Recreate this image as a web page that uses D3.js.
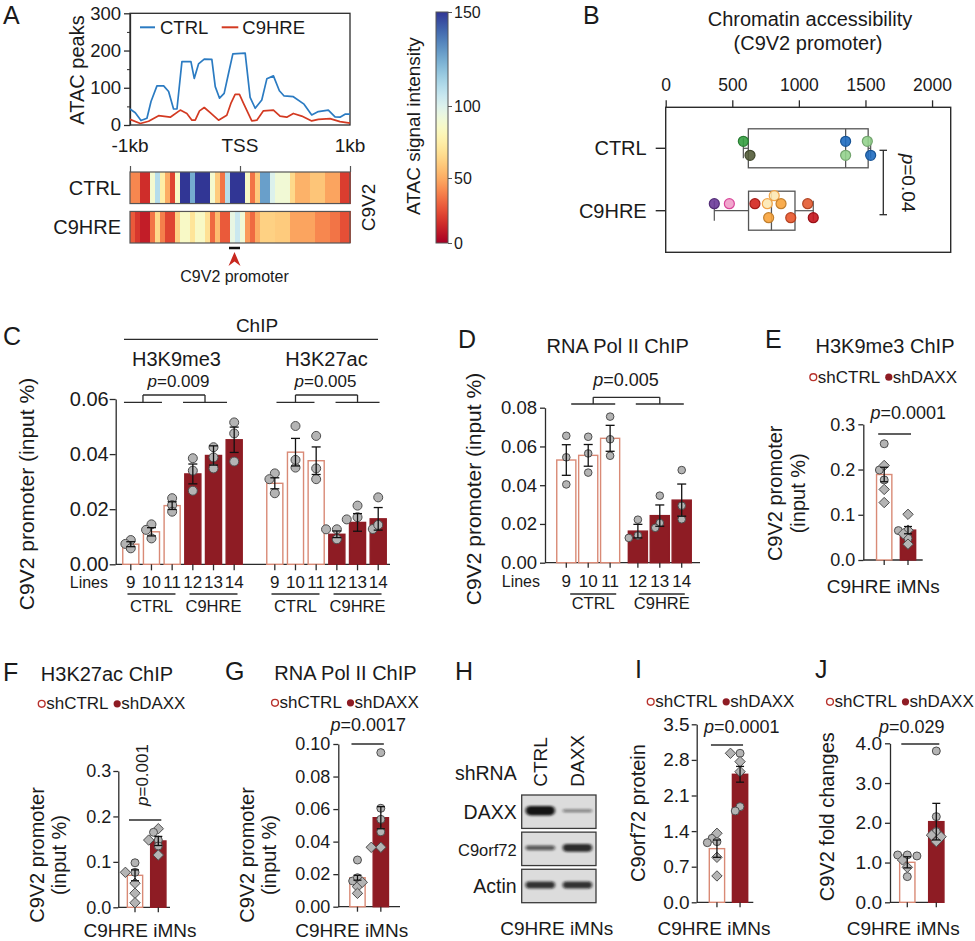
<!DOCTYPE html>
<html><head><meta charset="utf-8">
<script src="https://cdn.jsdelivr.net/npm/d3@7/dist/d3.min.js"></script>
<style>
html,body{margin:0;padding:0;background:#fff;}
svg{display:block;}
</style></head>
<body>
<svg id="fig" width="975" height="941" xmlns="http://www.w3.org/2000/svg"></svg>
<script>
// ================= DATA =================
// Panel A: ATAC peaks profile (bp relative to TSS, peak counts)
const atacCtrlPos = [-1000,-952,-900,-846,-809,-755,-694,-649,-604,-573,-528,-446,-416,-377,-325,-256,-225,-186,-144,-104,-65,47,92,138,198,244,304,358,401,485,582,652,712,803,864,909,955,1000];
const atacCtrlVal = [43,33,12,18,63,105,105,90,43,43,170,170,125,164,177,176,103,72,85,139,191,193,74,45,67,124,132,92,78,76,56,27,36,40,22,21,29,29];
const atacC9Pos = [-1000,-906,-831,-740,-634,-543,-483,-437,-407,-368,-325,-271,-195,-120,-83,-44,-5,32,107,153,213,304,364,425,485,561,652,712,818,909,1000];
const atacC9Val = [15,4,10,25,21,40,31,13,13,38,47,33,13,26,58,82,82,58,11,13,38,40,24,21,31,24,11,15,17,9,5];
const atacYTicks = [0,100,200,300];
const atacXLabels = ["-1kb","TSS","1kb"];
const atacXTickPos = [-1000,0,1000];
// Panel A heatmap: ATAC signal intensity per bin (44 bins across -1kb..1kb)
const heatCtrl = [40,40,15,15,88,110,75,50,22,85,150,150,125,150,150,150,88,60,35,110,150,150,150,85,35,60,128,128,100,90,90,90,65,52,52,52,58,58,58,48,48,48,20,20];
const heatC9 = [28,18,10,10,35,65,38,22,22,62,85,85,70,85,85,68,32,55,28,28,95,105,90,45,32,50,62,62,62,60,60,60,48,48,48,48,48,40,40,40,35,35,25,25];
const heatRows = ["CTRL","C9HRE"];
const colorbarTicks = [0,50,100,150];
const promoterRange = [-100,0];

// Panel B: chromatin accessibility at C9V2 promoter
const bGroups = ["CTRL","C9HRE"];
const bCtrlVals = [583,633,1351,1351,1514,1539];
const bCtrlColors = ["#35a041","#535c3a","#1f6cc0","#93d38d","#93d38d","#1f6cc0"];
const bC9Vals = [365,478,670,763,773,815,866,939,1066,1108];
const bC9Colors = ["#6b3a99","#ef9cc8","#d3231d","#fde9b2","#f8a33a","#fde9b2","#f8a33a","#e8552a","#e35a30","#c5141c"];
const bXTicks = [0,500,1000,1500,2000];
const bP = "0.04";

// Panel C: ChIP (input %) per line
const cLines = ["9","10","11","12","13","14"];
const cCond = ["CTRL","CTRL","CTRL","C9HRE","C9HRE","C9HRE"];
const cMarks = ["H3K9me3","H3K27ac"];
const h3k9Mean = [0.0073,0.0118,0.0213,0.0328,0.0395,0.0452];
const h3k9Sem = [0.0009,0.0015,0.0014,0.0036,0.0035,0.0046];
const h3k9Pts = [[0.0088,0.0074,0.0058],[0.0145,0.0125,0.0094],[0.0240,0.0215,0.0191],[0.0385,0.0340,0.0267],[0.0425,0.0388,0.0348],[0.0515,0.0475,0.0373]];
const h3k27Mean = [0.0294,0.0407,0.0376,0.0109,0.0152,0.0165];
const h3k27Sem = [0.0020,0.0050,0.0050,0.0012,0.0032,0.0041];
const h3k27Pts = [[0.0330,0.0309,0.0258],[0.0351,0.0502,0.0379],[0.0466,0.0348,0.0309],[0.0127,0.0127,0.0091],[0.0213,0.0163,0.0171],[0.0243,0.0128,0.0143]];
const cPvals = ["0.009","0.005"];
const cYTicks = [0,0.02,0.04,0.06];

// Panel D: RNA Pol II ChIP
const polMean = [0.0530,0.0554,0.0642,0.0163,0.0243,0.0323];
const polSem = [0.0079,0.0056,0.0067,0.0035,0.0055,0.0083];
const polPts = [[0.0655,0.0544,0.0404],[0.0650,0.0564,0.0465],[0.0754,0.0637,0.0552],[0.0222,0.0140,0.0128],[0.0346,0.0205,0.0180],[0.0478,0.0294,0.0224]];
const dYTicks = [0,0.02,0.04,0.06,0.08];

// Small panels: shCTRL vs shDAXX
const shGroups = ["shCTRL","shDAXX"];
// E: H3K9me3 ChIP
const eMean = [0.189,0.066], eSem = [0.016,0.008];
const eCtrlPts = [0.257,0.199,0.177,0.209,0.156,0.127], eCtrlShape = ["o","o","o","d","d","d"];
const eDaxxPts = [0.101,0.065,0.066,0.048,0.035,0.058], eDaxxShape = ["d","o","d","o","d","d"];
const eYTicks = [0,0.1,0.2,0.3];
// F: H3K27ac ChIP
const fMean = [0.0704,0.146], fSem = [0.012,0.010];
const fCtrlPts = [0.098,0.077,0.077,0.053,0.031,0.010], fCtrlShape = ["o","o","d","d","d","d"];
const fDaxxPts = [0.173,0.165,0.148,0.148,0.135,0.115], fDaxxShape = ["d","o","o","d","o","d"];
const fYTicks = [0,0.1,0.2,0.3];
// G: RNA Pol II ChIP
const gMean = [0.0178,0.0547], gSem = [0.0015,0.0068];
const gCtrlPts = [0.0287,0.0158,0.0178,0.0123,0.0150,0.0082], gCtrlShape = ["o","o","o","d","d","d"];
const gDaxxPts = [0.0947,0.0605,0.0537,0.0460,0.0365,0.0365], gDaxxShape = ["o","o","o","o","d","d"];
const gYTicks = [0,0.02,0.04,0.06,0.08,0.10];
// H: western blot (relative band intensity)
const blotLanes = ["CTRL","DAXX"];
const blotProteins = ["DAXX","C9orf72","Actin"];
const blotDAXX = [1.0,0.3];
const blotC9orf72 = [0.55,0.85];
const blotActin = [0.8,0.8];
// I: C9orf72 protein
const iMean = [1.055,2.517], iSem = [0.17,0.155];
const iCtrlPts = [1.258,1.357,1.193,1.173,0.885,0.518], iCtrlShape = ["o","d","o","o","d","d"];
const iDaxxPts = [2.93,2.93,2.766,2.569,1.881,1.796], iDaxxShape = ["o","d","d","d","o","o"];
const iYTicks = [0,0.7,1.4,2.1,2.8,3.5];
// J: C9V2 fold changes
const jMean = [1.006,2.029], jSem = [0.14,0.46];
const jCtrlPts = [1.19,1.19,1.166,0.88,0.646,1.065], jCtrlShape = ["o","o","o","d","o","d"];
const jDaxxPts = [3.807,2.155,1.778,1.69,1.65,1.526], jDaxxShape = ["o","o","o","d","d","d"];
const jYTicks = [0,1,2,3,4];

// ================= DRAWING =================
const FONT = '"Liberation Sans", Arial, Helvetica, sans-serif';
const INK = "#1a1a1a";
const AX = "#2b2b2b";
const CTRL_EDGE = "#d98a76";
const DARK_RED = "#8e1c24";
const svg = d3.select("#fig").attr("font-family", FONT);
svg.append("rect").attr("width",975).attr("height",941).attr("fill","#fff");

function text(x, y, s, size, anchor="start", rot=0) {
  const t = svg.append("text").attr("x",x).attr("y",y).attr("font-size",size)
    .attr("text-anchor",anchor).attr("fill",INK).text(s);
  if (rot) t.attr("transform",`rotate(${rot},${x},${y})`);
  return t;
}
function ptext(x, y, val, size, anchor="middle", rot=0) {
  const t = svg.append("text").attr("x",x).attr("y",y).attr("font-size",size)
    .attr("text-anchor",anchor).attr("fill",INK);
  t.append("tspan").attr("font-style","italic").text("p");
  t.append("tspan").text("=" + val);
  if (rot) t.attr("transform",`rotate(${rot},${x},${y})`);
  return t;
}
function line(x1,y1,x2,y2,w=1.3,c=AX) {
  return svg.append("line").attr("x1",x1).attr("y1",y1).attr("x2",x2).attr("y2",y2)
    .attr("stroke",c).attr("stroke-width",w);
}
function styleAxis(g, size) {
  g.select(".domain").attr("stroke",AX).attr("stroke-width",1.3);
  g.selectAll(".tick line").attr("stroke",AX).attr("stroke-width",1.3);
  g.selectAll(".tick text").attr("font-size",size).attr("fill",INK).attr("font-family",FONT);
}
function marker(g, x, y, shape, r) {
  if (shape === "d") {
    const s = r * 1.3;
    g.append("path").attr("d",`M${x},${y-s}L${x+s},${y}L${x},${y+s}L${x-s},${y}Z`)
      .attr("fill","#b4b4b4").attr("stroke","#4d4d4d").attr("stroke-width",1);
  } else {
    g.append("circle").attr("cx",x).attr("cy",y).attr("r",r)
      .attr("fill","#b4b4b4").attr("stroke","#4d4d4d").attr("stroke-width",1);
  }
}
// horizontal dodge so that points do not overlap too much
function dodge(vals, y, cx, r) {
  const placed = [], res = new Array(vals.length);
  const order = vals.map((v,i)=>i).sort((a,b)=>vals[b]-vals[a]);
  const s = r * 1.2;
  const cands = [0,-s,s,-2*s,2*s];
  for (const i of order) {
    const py = y(vals[i]);
    let dx = cands[cands.length-1];
    for (const c of cands) {
      if (placed.every(p => Math.hypot(p.x-c, p.y-py) >= 2*r*0.7)) { dx = c; break; }
    }
    placed.push({x:dx, y:py});
    res[i] = {x: cx+dx, y: py};
  }
  return res;
}
function errorBar(x, y, mean, sem, cap=4.5) {
  line(x, y(mean-sem), x, y(mean+sem), 1.3, "#111");
  line(x-cap, y(mean+sem), x+cap, y(mean+sem), 1.3, "#111");
  line(x-cap, y(mean-sem), x+cap, y(mean-sem), 1.3, "#111");
}
function bar(x, w, y, v, ctrl) {
  svg.append("rect").attr("x",x+0.75).attr("y",y(v)).attr("width",w-1.5).attr("height",y(0)-y(v))
    .attr("fill", ctrl ? "#fff" : DARK_RED).attr("stroke", ctrl ? CTRL_EDGE : DARK_RED).attr("stroke-width",1.4);
}

// ---------- Panel A ----------
text(3, 24, "A", 25);
const xA = d3.scaleLinear().domain([-1000,1000]).range([130,350]);
const yA = d3.scaleLinear().domain([0,300]).range([125,13.3]);
svg.append("rect").attr("x",xA(-1000)).attr("y",yA(300)).attr("width",xA(1000)-xA(-1000))
  .attr("height",yA(0)-yA(300)).attr("fill","none").attr("stroke",AX).attr("stroke-width",1.3);
const gAy = svg.append("g").attr("transform",`translate(${xA(-1000)},0)`)
  .call(d3.axisLeft(yA).tickValues(atacYTicks).tickSize(6).tickSizeOuter(0).tickPadding(3));
styleAxis(gAy, 18.5);
svg.append("g").attr("transform",`translate(${xA(-1000)},0)`)
  .call(d3.axisLeft(yA).tickValues([50,150,250]).tickSize(3).tickFormat(""))
  .call(g => { g.select(".domain").remove(); g.selectAll("line").attr("stroke",AX).attr("stroke-width",1); });
text(84, 70, "ATAC peaks", 20, "middle", -90);
const lineA = d3.line().x(d=>xA(d[0])).y(d=>yA(d[1]));
svg.append("path").datum(d3.zip(atacCtrlPos, atacCtrlVal)).attr("d",lineA)
  .attr("fill","none").attr("stroke","#2b7bc2").attr("stroke-width",1.7).attr("stroke-linejoin","round");
svg.append("path").datum(d3.zip(atacC9Pos, atacC9Val)).attr("d",lineA)
  .attr("fill","none").attr("stroke","#d33a22").attr("stroke-width",1.7).attr("stroke-linejoin","round");
line(140, 27.3, 155, 27.3, 2, "#2b7bc2"); text(160, 33.5, "CTRL", 18.5);
line(221.7, 27.3, 238.3, 27.3, 2, "#d33a22"); text(242.3, 33.5, "C9HRE", 18.5);
atacXTickPos.forEach((p,i) => text(xA(p), 151.5, atacXLabels[i], 19, "middle"));

// heatmap
const tMap = d3.scaleLinear().domain([0,50,100,150]).range([0,0.3,0.6,1]).clamp(true);
const heatColor = v => d3.interpolateRdYlBu(tMap(v));
const xBin = d3.scaleBand().domain(d3.range(heatCtrl.length)).range([xA(-1000), xA(1000)]);
const yRow = d3.scaleBand().domain(heatRows).range([172,243]).paddingInner(0.2);
[heatCtrl, heatC9].forEach((arr, ri) => {
  const row = heatRows[ri];
  svg.append("g").selectAll("rect").data(arr).join("rect")
    .attr("x",(d,i)=>xBin(i)).attr("y",yRow(row)).attr("width",xBin.bandwidth()+0.6)
    .attr("height",yRow.bandwidth()).attr("fill",d=>heatColor(d)).attr("shape-rendering","crispEdges");
  svg.append("rect").attr("x",xA(-1000)).attr("y",yRow(row)).attr("width",xA(1000)-xA(-1000))
    .attr("height",yRow.bandwidth()).attr("fill","none").attr("stroke","#555").attr("stroke-width",1.2);
  text(121, yRow(row)+yRow.bandwidth()/2+7, row, 20, "end");
});
svg.append("g").attr("transform",`translate(0,${yRow("CTRL")})`)
  .call(d3.axisTop(xA).tickValues(atacXTickPos).tickSize(6).tickFormat(""))
  .call(g => { g.select(".domain").remove(); g.selectAll("line").attr("stroke","#555").attr("stroke-width",1.2); });
text(375, 207.5, "C9V2", 19, "middle", -90);
line(xA(promoterRange[0]), 248, xA(promoterRange[1]), 248, 2.5, "#111");
const arrowX = xA((promoterRange[0]+promoterRange[1])/2);
svg.append("path").attr("d",`M${arrowX},252 L${arrowX+6},266 L${arrowX},261.5 L${arrowX-6},266 Z`).attr("fill","#c8281f");
text(arrowX, 282, "C9V2 promoter", 16, "middle");

// colorbar
const cbY = d3.scaleLinear().domain([0,50,100,150]).range([243,178,106,12]);
const defs = svg.append("defs");
const grad = defs.append("linearGradient").attr("id","cbgrad").attr("x1",0).attr("y1",1).attr("x2",0).attr("y2",0);
d3.range(0,151,5).forEach(v => grad.append("stop").attr("offset",(cbY(0)-cbY(v))/(cbY(0)-cbY(150))).attr("stop-color",heatColor(v)));
svg.append("rect").attr("x",436).attr("y",cbY(150)).attr("width",12).attr("height",cbY(0)-cbY(150))
  .attr("fill","url(#cbgrad)").attr("stroke","#555").attr("stroke-width",1);
const gCb = svg.append("g").attr("transform","translate(448,0)")
  .call(d3.axisRight(cbY).tickValues(colorbarTicks).tickSize(4).tickPadding(2));
gCb.select(".domain").remove();
gCb.selectAll("line").attr("stroke","#555");
gCb.selectAll("text").attr("font-size",16).attr("fill",INK).attr("font-family",FONT);
text(420, 126, "ATAC signal intensity", 19, "middle", -90);

// ---------- Panel B ----------
text(583, 24, "B", 25);
text(810, 26, "Chromatin accessibility", 20, "middle");
text(808, 50, "(C9V2 promoter)", 20, "middle");
const xB = d3.scaleLinear().domain([0,2140]).range([665.7,950.7]);
const yB = d3.scalePoint().domain(bGroups).range([148.3,210.7]);
const bTop = 107.3, bBot = 252.3;
svg.append("rect").attr("x",xB(0)).attr("y",bTop).attr("width",xB(2140)-xB(0)).attr("height",bBot-bTop)
  .attr("fill","none").attr("stroke",AX).attr("stroke-width",1.4);
const gBx = svg.append("g").attr("transform",`translate(0,${bTop})`)
  .call(d3.axisTop(xB).tickValues(bXTicks).tickFormat(d3.format("d")).tickSize(7).tickSizeOuter(0).tickPadding(9));
styleAxis(gBx, 17.5);
gBx.select(".domain").remove();
bGroups.forEach(g => {
  line(xB(0)-10, yB(g), xB(0), yB(g), 1.4);
  text(xB(0)-19, yB(g)+7, g, 20, "end");
});
function q6(sorted, p) {
  const h = p*(sorted.length+1) - 1;
  const lo = Math.max(0, Math.min(sorted.length-1, Math.floor(h)));
  const hi = Math.min(sorted.length-1, lo+1);
  return sorted[lo] + (h-lo)*(sorted[hi]-sorted[lo]);
}
function boxPlot(vals, cols, grp, strokes) {
  const s = vals.slice().sort(d3.ascending);
  const q1 = q6(s,0.25), q3 = q6(s,0.75), med = d3.median(s);
  const cy = yB(grp), hh = 19.5;
  line(xB(s[0]), cy, xB(q1), cy, 1.2, "#555");
  line(xB(q3), cy, xB(s[s.length-1]), cy, 1.2, "#555");
  line(xB(s[0]), cy-10, xB(s[0]), cy+10, 1.2, "#555");
  line(xB(s[s.length-1]), cy-10, xB(s[s.length-1]), cy+10, 1.2, "#555");
  svg.append("rect").attr("x",xB(q1)).attr("y",cy-hh).attr("width",xB(q3)-xB(q1)).attr("height",2*hh)
    .attr("fill","none").attr("stroke","#555").attr("stroke-width",1.3);
  line(xB(med), cy-hh, xB(med), cy+hh, 1.3, "#555");
  // vertical dodge
  const r = 5, placed = [];
  const order = vals.map((v,i)=>i).sort((a,b)=>vals[a]-vals[b]);
  const cands = [-7,7,0,-15,15];
  order.forEach(i => {
    const px = xB(vals[i]);
    let dy = cands[cands.length-1];
    for (const c of cands) { if (placed.every(p=>Math.hypot(p.x-px,p.y-c) >= 2*r)) { dy = c; break; } }
    placed.push({x:px, y:dy});
    svg.append("circle").attr("cx",px).attr("cy",cy+dy).attr("r",r)
      .attr("fill",cols[i]).attr("fill-opacity",0.9)
      .attr("stroke", strokes ? strokes[i] : d3.color(cols[i]).darker(0.7)).attr("stroke-width",1.2);
  });
}
boxPlot(bCtrlVals, bCtrlColors, "CTRL");
boxPlot(bC9Vals, bC9Colors, "C9HRE", bC9Colors.map(c => c === "#fde9b2" ? "#f2a64a" : (c === "#ef9cc8" ? "#d9479a" : d3.color(c).darker(0.7))));
line(883.3, yB("CTRL")+2, 883.3, yB("C9HRE")+4, 1.3);
line(879.5, yB("CTRL")+2, 887, yB("CTRL")+2, 1.3);
line(879.5, yB("C9HRE")+4, 887, yB("C9HRE")+4, 1.3);
ptext(902, 183, bP, 19, "middle", 90);

// ---------- Panel C ----------
text(3, 345, "C", 25);
const yC = d3.scaleLinear().domain([0,0.06]).range([564.3,399]);
const xCmark = d3.scaleBand().domain(cMarks).range([122,387]).paddingInner(0.16);
const xCcond = d3.scaleBand().domain(["CTRL","C9HRE"]).range([0,xCmark.bandwidth()]).paddingInner(0.05);
const xCline = d3.scaleBand().domain([0,1,2]).range([0,xCcond.bandwidth()]).paddingInner(0.15);
const cBarX = (m, i) => xCmark(m) + xCcond(cCond[i]) + xCline(i % 3);
const gCy = svg.append("g").attr("transform","translate(115.7,0)")
  .call(d3.axisLeft(yC).tickValues(cYTicks).tickFormat(d3.format(".2f")).tickSize(6).tickSizeOuter(0).tickPadding(1));
styleAxis(gCy, 20);
line(115.7, yC(0), 390, yC(0), 1.3);
text(34, 494, "C9V2 promoter (input %)", 21, "middle", -90);
text(257, 331.7, "ChIP", 19, "middle");
line(124, 339.3, 378, 339.3, 1.3);
const cBracketShift = [-8.5, 0];
[[h3k9Mean,h3k9Sem,h3k9Pts],[h3k27Mean,h3k27Sem,h3k27Pts]].forEach(([mean,sem,pts], mi) => {
  const m = cMarks[mi];
  const gx0 = xCmark(m), gc = gx0 + xCmark.bandwidth()/2;
  text(gc - 6 + mi*6, 366, m, 20, "middle");
  ptext(gc - 4 + mi*3, 387.3, cPvals[mi], 17, "middle");
  const c1 = gx0 + xCcond("CTRL") + xCcond.bandwidth()/2 + cBracketShift[mi];
  const c2 = gx0 + xCcond("C9HRE") + xCcond.bandwidth()/2 + cBracketShift[mi];
  line(c1-19, 402.3, c1+19, 402.3); line(c2-22, 402.3, c2+22, 402.3);
  line(c1, 402.3, c1, 395); line(c1, 395, c2, 395); line(c2, 395, c2, 402.3);
  mean.forEach((v, i) => {
    const bx = cBarX(m, i), bw = xCline.bandwidth(), cx = bx + bw/2;
    bar(bx, bw, yC, v, cCond[i] === "CTRL");
    line(cx, yC(0), cx, yC(0)+6, 1.3);
    text(cx, 588, cLines[i], 17, "middle");
  });
  mean.forEach((v, i) => {
    const cx = cBarX(m, i) + xCline.bandwidth()/2;
    const g = svg.append("g");
    dodge(pts[i], yC, cx, 4.5).forEach(p => marker(g, p.x, p.y, "o", 4.5));
    errorBar(cx, yC, v, sem[i]);
  });
  ["CTRL","C9HRE"].forEach(c => {
    const cc = gx0 + xCcond(c) + xCcond.bandwidth()/2;
    line(cc-24, 594, cc+24, 594, 1.3);
    text(cc, 612, c, 16.5, "middle");
  });
});
text(108, 588, "Lines", 16, "end");

// ---------- Panel D ----------
text(458, 348, "D", 25);
text(617.7, 352.7, "RNA Pol II ChIP", 20, "middle");
const yD = d3.scaleLinear().domain([0,0.08]).range([562.7,407.7]);
const xDcond = d3.scaleBand().domain(["CTRL","C9HRE"]).range([556,692]).paddingInner(0.1);
const xDline = d3.scaleBand().domain([0,1,2]).range([0,xDcond.bandwidth()]).paddingInner(0.06);
const gDy = svg.append("g").attr("transform","translate(545,0)")
  .call(d3.axisLeft(yD).tickValues(dYTicks).tickFormat(d3.format(".2f")).tickSize(5).tickSizeOuter(0).tickPadding(3));
styleAxis(gDy, 18.5);
line(545, yD(0), 700, yD(0), 1.3);
text(481, 489, "C9V2 promoter (input %)", 21, "middle", -90);
polMean.forEach((v,i) => {
  const bx = xDcond(cCond[i]) + xDline(i%3), bw = xDline.bandwidth(), cx = bx + bw/2;
  bar(bx, bw, yD, v, cCond[i] === "CTRL");
  line(cx, yD(0), cx, yD(0)+5, 1.3);
  text(cx, 587, cLines[i], 17, "middle");
});
polMean.forEach((v,i) => {
  const cx = xDcond(cCond[i]) + xDline(i%3) + xDline.bandwidth()/2;
  const g = svg.append("g");
  dodge(polPts[i], yD, cx, 3.8).forEach(p => marker(g, p.x, p.y, "o", 3.8));
  errorBar(cx, yD, v, polSem[i]);
});
{
  const c1 = xDcond("CTRL") + xDcond.bandwidth()/2 + 5, c2 = xDcond("C9HRE") + xDcond.bandwidth()/2;
  line(c1-22, 404, c1+22, 404); line(c2-24, 404, c2+24, 404);
  line(c1, 404, c1, 397.3); line(c1, 397.3, c2, 397.3); line(c2, 397.3, c2, 404);
  ptext(626, 386, "0.005", 18, "middle");
  ["CTRL","C9HRE"].forEach(c => {
    const cc = xDcond(c) + xDcond.bandwidth()/2 + (c === "CTRL" ? 5 : 2);
    line(cc-23, 594, cc+23, 594, 1.3);
    text(cc, 609, c, 16.5, "middle");
  });
  text(540, 587, "Lines", 16, "end");
}

// ---------- small shCTRL / shDAXX panels ----------
function legend(xo, yb) {
  svg.append("circle").attr("cx",xo).attr("cy",yb-5.5).attr("r",3.4).attr("fill","#fff").attr("stroke","#b8322c").attr("stroke-width",1.4);
  text(xo+4.5, yb, "shCTRL", 17);
  const xf = xo + 75.5;
  svg.append("circle").attr("cx",xf).attr("cy",yb-5.5).attr("r",3.6).attr("fill",DARK_RED);
  text(xf+4, yb, "shDAXX", 17);
}
function smallPanel(cfg) {
  const y = d3.scaleLinear().domain([0, cfg.max]).range([cfg.y0, cfg.yTop]);
  const step = (cfg.band[1]-cfg.band[0])/2;
  const pi = 1 - 16.8/step;
  const x = d3.scaleBand().domain(shGroups).range(cfg.band).paddingInner(pi).paddingOuter(pi/2);
  const gy = svg.append("g").attr("transform",`translate(${cfg.ax},0)`)
    .call(d3.axisLeft(y).tickValues(cfg.ticks).tickFormat(d3.format(cfg.fmt)).tickSize(5).tickSizeOuter(0).tickPadding(cfg.pad));
  styleAxis(gy, cfg.fs);
  line(cfg.ax, y(0), cfg.xEnd, y(0), 1.3);
  shGroups.forEach((g,i) => {
    const cx = x(g) + x.bandwidth()/2;
    bar(x(g), x.bandwidth(), y, cfg.mean[i], i === 0);
    line(cx, y(0), cx, y(0)+5, 1.3);
  });
  shGroups.forEach((g,i) => {
    const cx = x(g) + x.bandwidth()/2;
    const gg = svg.append("g");
    const pts = i === 0 ? cfg.ctrl : cfg.daxx, shp = i === 0 ? cfg.ctrlShape : cfg.daxxShape;
    dodge(pts, y, cx, 4).forEach((p,k) => marker(gg, p.x, p.y, shp[k], 4));
    errorBar(cx, y, cfg.mean[i], cfg.sem[i], 4);
  });
  const c1 = x("shCTRL") + x.bandwidth()/2, c2 = x("shDAXX") + x.bandwidth()/2;
  line(c1-6, cfg.pLineY, c2+3, cfg.pLineY, 1.4);
  return {x, y};
}

// E
text(765, 348.3, "E", 25);
text(885, 352.7, "H3K9me3 ChIP", 20, "middle");
legend(813.3, 382.7);
smallPanel({ax:863.3, y0:560, yTop:424.3, max:0.3, ticks:eYTicks, fmt:".1f", fs:18, pad:3, xEnd:922.7,
  band:[872.3,919.9], mean:eMean, sem:eSem, ctrl:eCtrlPts, ctrlShape:eCtrlShape, daxx:eDaxxPts, daxxShape:eDaxxShape, pLineY:434});
ptext(908.3, 419.3, "0.0001", 18, "middle");
text(782, 493.3, "C9V2 promoter", 20, "middle", -90);
text(805, 493.3, "(input %)", 20, "middle", -90);
text(883.3, 593.3, "C9HRE iMNs", 19, "middle");

// F
text(3, 681, "F", 25);
text(107, 681, "H3K27ac ChIP", 20, "middle");
legend(41.7, 709.3);
smallPanel({ax:118.3, y0:907.3, yTop:771, max:0.3, ticks:fYTicks, fmt:".1f", fs:18, pad:2, xEnd:170,
  band:[123.35,169.95], mean:fMean, sem:fSem, ctrl:fCtrlPts, ctrlShape:fCtrlShape, daxx:fDaxxPts, daxxShape:fDaxxShape, pLineY:820});
ptext(148, 775, "0.001", 17, "middle", -90);
text(44, 855, "C9V2 promoter", 20, "middle", -90);
text(66, 855, "(input %)", 20, "middle", -90);
text(140, 936.7, "C9HRE iMNs", 19, "middle");

// G
text(225, 680, "G", 25);
text(345.5, 680, "RNA Pol II ChIP", 20, "middle");
legend(275, 708.3);
smallPanel({ax:338.3, y0:906.7, yTop:744, max:0.10, ticks:gYTicks, fmt:".2f", fs:18, pad:3, xEnd:400,
  band:[345.8,392.5], mean:gMean, sem:gSem, ctrl:gCtrlPts, ctrlShape:gCtrlShape, daxx:gDaxxPts, daxxShape:gDaxxShape, pLineY:744});
ptext(368.3, 731, "0.0017", 18, "middle");
text(254, 855, "C9V2 promoter", 20, "middle", -90);
text(276, 855, "(input %)", 20, "middle", -90);
text(351.7, 936.7, "C9HRE iMNs", 19, "middle");

// H: blot
text(455, 680, "H", 25);
const xLane = d3.scaleBand().domain(blotLanes).range([521.7,596]).paddingInner(0.1).paddingOuter(0.05);
const yProt = d3.scaleBand().domain(blotProteins).range([795,902.7]).paddingInner(0.1);
const blur = defs.append("filter").attr("id","bandblur").attr("x","-20%").attr("y","-100%").attr("width","140%").attr("height","300%");
blur.append("feGaussianBlur").attr("stdDeviation","1.6 1.1");
text(516.7, 780, "shRNA", 19.5, "end");
blotLanes.forEach(l => text(xLane(l)+xLane.bandwidth()/2+7, 786.7, l, 19, "start", -90));
[blotDAXX, blotC9orf72, blotActin].forEach((vals, pi) => {
  const p = blotProteins[pi], py = yProt(p), ph = yProt.bandwidth();
  svg.append("rect").attr("x",521.7).attr("y",py).attr("width",596-521.7).attr("height",ph)
    .attr("fill","#dcdcdc").attr("stroke","#3a3a3a").attr("stroke-width",1.3);
  vals.forEach((v, li) => {
    const l = blotLanes[li];
    const bh = 2.5 + 7 * v * v;
    const cy = py + ph * 0.47;
    svg.append("rect").attr("x",xLane(l)+2).attr("y",cy-bh/2).attr("width",xLane.bandwidth()-4).attr("height",bh)
      .attr("rx",bh/2).attr("fill","#111").attr("fill-opacity",0.25+0.72*v).attr("filter","url(#bandblur)");
  });
  text(516.7, py + ph*0.5 + 7, p, p === "C9orf72" ? 16.5 : 19.5, "end");
});
text(556.7, 935, "C9HRE iMNs", 19, "middle");

// I
text(635, 678.3, "I", 25);
legend(650.7, 707.3);
smallPanel({ax:696.7, y0:902.3, yTop:724.3, max:3.5, ticks:iYTicks, fmt:".1f", fs:19, pad:2, xEnd:753.3,
  band:[705.4,751.6], mean:iMean, sem:iSem, ctrl:iCtrlPts, ctrlShape:iCtrlShape, daxx:iDaxxPts, daxxShape:iDaxxShape, pLineY:745});
ptext(741.7, 733.3, "0.0001", 18, "middle");
text(645, 813, "C9orf72 protein", 20, "middle", -90);
text(714, 935, "C9HRE iMNs", 19, "middle");

// J
text(815, 678.3, "J", 25);
legend(830, 707.3);
smallPanel({ax:890, y0:902.3, yTop:743.3, max:4, ticks:jYTicks, fmt:".1f", fs:19, pad:3, xEnd:943.3,
  band:[892.8,950.8], mean:jMean, sem:jSem, ctrl:jCtrlPts, ctrlShape:jCtrlShape, daxx:jDaxxPts, daxxShape:jDaxxShape, pLineY:744});
ptext(911.7, 733.3, "0.029", 18, "middle");
text(834, 816.7, "C9V2 fold changes", 20, "middle", -90);
text(903.3, 935, "C9HRE iMNs", 19, "middle");
</script>
</body></html>
